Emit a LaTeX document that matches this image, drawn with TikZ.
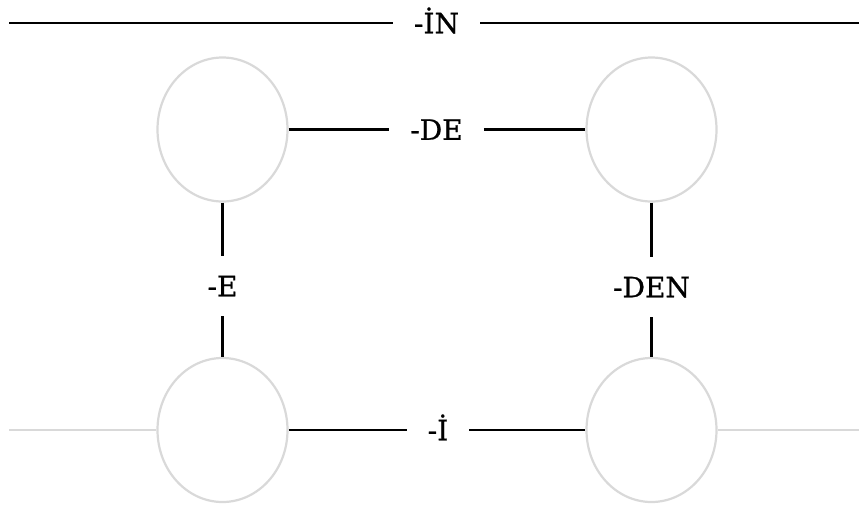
\documentclass[tikz,border=0pt]{standalone}
\usepackage{fontspec}
\setmainfont{DejaVu Serif}[FakeBold=0.8]
\usetikzlibrary{shapes.geometric}
\definecolor{ringgray}{RGB}{217,217,217}
\begin{document}
\begin{tikzpicture}[x=1pt,y=-1pt,
  ring/.style={draw=ringgray,line width=2.2pt,ellipse,minimum width=130pt,minimum height=144pt,inner sep=0pt},
  lbl/.style={font=\fontsize{28}{28}\selectfont,inner xsep=21pt,inner ysep=20pt,text height=20.5pt,text depth=0pt},
  link/.style={line width=2.5pt,black},
  faint/.style={line width=2.2pt,ringgray}]
\useasboundingbox (0,0) rectangle (859,509);
\node[ring] (A) at (222.5,129.5) {};
\node[ring] (B) at (651.5,129.5) {};
\node[ring] (C) at (222.5,430) {};
\node[ring] (D) at (651.5,430) {};
\coordinate (tl) at (9,23);
\coordinate (tr) at (859,23);
\coordinate (bl) at (9,430);
\coordinate (br) at (859,430);
\node[lbl] (IN) at (436.5,23) {-İN};
\node[lbl] (DE) at (436.5,129.5) {-DE};
\node[lbl] (I) at (438,430) {-İ};
\node[lbl] (E) at (222.5,286) {-E};
\node[lbl] (DEN) at (651.5,287) {-DEN};
\draw[link] (tl) -- (IN.west);
\draw[link] (IN.east) -- (tr);
\draw[link] (A.east) -- (DE.west);
\draw[link] (DE.east) -- (B.west);
\draw[link] (C.east) -- (I.west);
\draw[link] (I.east) -- (D.west);
\draw[link] (A.south) -- (E.north);
\draw[link] (E.south) -- (C.north);
\draw[link] (B.south) -- (DEN.north);
\draw[link] (DEN.south) -- (D.north);
\draw[faint] (bl) -- (C.west);
\draw[faint] (D.east) -- (br);
\end{tikzpicture}
\end{document}
